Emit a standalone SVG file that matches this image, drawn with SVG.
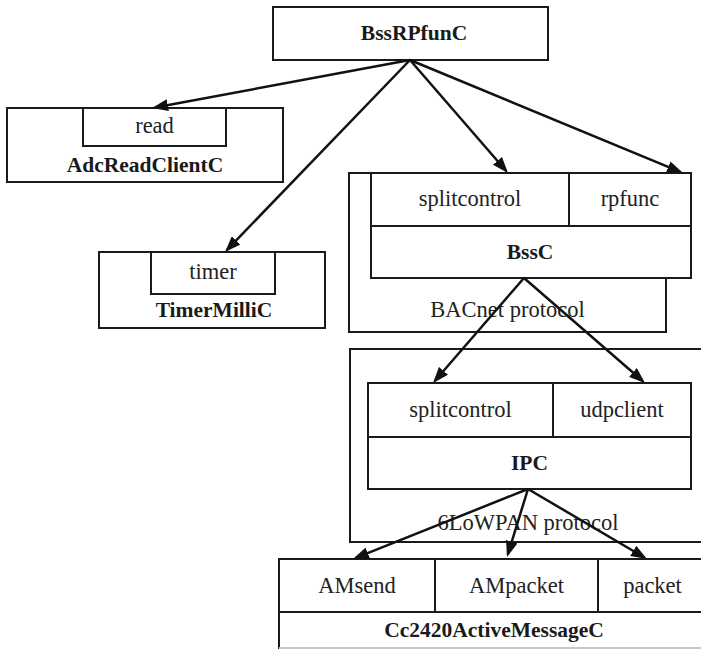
<svg xmlns="http://www.w3.org/2000/svg" width="701" height="649" viewBox="0 0 701 649">
  <style>
    .box { fill: #ffffff; stroke: #1a1a1a; stroke-width: 2; }
    .rule { stroke: #1a1a1a; stroke-width: 2; fill: none; }
    .lbl { font-family: "Liberation Serif", "Times New Roman", serif; font-size: 22.5px; fill: #222222; text-anchor: middle; }
    .name { font-family: "Liberation Serif", "Times New Roman", serif; font-size: 21.5px; font-weight: bold; fill: #1a1a1a; text-anchor: middle; }
    .wire { stroke: #111111; stroke-width: 2.5; fill: none; marker-end: url(#head); }
  </style>
  <defs>
    <marker id="head" viewBox="0 0 16 12" markerUnits="userSpaceOnUse" markerWidth="16" markerHeight="12" refX="13" refY="6" orient="auto">
      <path d="M0,0 L16,6 L0,12 z" fill="#111111"/>
    </marker>
  </defs>

  <rect width="701" height="649" fill="#ffffff"/>

  <!-- top-level component -->
  <g id="BssRPfunC">
    <rect class="box" x="273" y="7" width="275" height="53"/>
    <text class="name" x="414" y="40">BssRPfunC</text>
  </g>

  <!-- ADC client with its read interface -->
  <g id="AdcReadClientC">
    <rect class="box" x="7" y="108" width="276" height="74"/>
    <rect class="box" x="83" y="108" width="143" height="38"/>
    <text class="lbl" x="154.5" y="133">read</text>
    <text class="name" x="145" y="172">AdcReadClientC</text>
  </g>

  <!-- millisecond timer with its timer interface -->
  <g id="TimerMilliC">
    <rect class="box" x="99" y="252" width="226" height="76"/>
    <rect class="box" x="151" y="252" width="124" height="42"/>
    <text class="lbl" x="213" y="279">timer</text>
    <text class="name" x="214" y="317">TimerMilliC</text>
  </g>

  <!-- BACnet protocol layer containing BssC -->
  <g id="BACnet">
    <rect class="box" x="349" y="173" width="317" height="159"/>
    <text class="lbl" x="507.5" y="317">BACnet protocol</text>
  </g>
  <g id="BssC">
    <rect class="box" x="371" y="173" width="320" height="105"/>
    <line class="rule" x1="371" y1="226" x2="691" y2="226"/>
    <line class="rule" x1="569" y1="173" x2="569" y2="226"/>
    <text class="lbl" x="470" y="206">splitcontrol</text>
    <text class="lbl" x="630" y="206">rpfunc</text>
    <text class="name" x="530" y="259">BssC</text>
  </g>

  <!-- 6LoWPAN protocol layer containing IPC -->
  <g id="SixLoWPAN">
    <rect class="box" x="350" y="349" width="370" height="193"/>
    <text class="lbl" x="528" y="530">6LoWPAN protocol</text>
  </g>
  <g id="IPC">
    <rect class="box" x="368" y="383" width="323" height="106"/>
    <line class="rule" x1="368" y1="437" x2="691" y2="437"/>
    <line class="rule" x1="553" y1="383" x2="553" y2="437"/>
    <text class="lbl" x="460.5" y="417">splitcontrol</text>
    <text class="lbl" x="622" y="417">udpclient</text>
    <text class="name" x="529.5" y="470">IPC</text>
  </g>

  <!-- radio active message component -->
  <g id="Cc2420ActiveMessageC">
    <path class="rule" d="M279,649 L279,559 L712,559"/>
    <line x1="279" y1="648" x2="712" y2="648" stroke="#c8c8c8" stroke-width="2"/>
    <line class="rule" x1="279" y1="612" x2="712" y2="612"/>
    <line class="rule" x1="435" y1="559" x2="435" y2="612"/>
    <line class="rule" x1="598" y1="559" x2="598" y2="612"/>
    <text class="lbl" x="357" y="593">AMsend</text>
    <text class="lbl" x="516.5" y="593">AMpacket</text>
    <text class="lbl" x="652.5" y="593">packet</text>
    <text class="name" x="494" y="637">Cc2420ActiveMessageC</text>
  </g>

  <!-- wiring between components -->
  <g id="connectors">
    <line class="wire" x1="410" y1="60" x2="155" y2="107.5"/>
    <line class="wire" x1="410" y1="60" x2="227.1" y2="249.8"/>
    <line class="wire" x1="410" y1="60" x2="506" y2="170.7"/>
    <line class="wire" x1="410" y1="60" x2="680.2" y2="171.9"/>
    <line class="wire" x1="524" y1="278" x2="435" y2="380.7"/>
    <line class="wire" x1="524" y1="278" x2="642.7" y2="381"/>
    <line class="wire" x1="528" y1="489" x2="355.8" y2="557.9"/>
    <line class="wire" x1="528" y1="489" x2="507.9" y2="554.1"/>
    <line class="wire" x1="528" y1="489" x2="644.4" y2="557.5"/>
  </g>
</svg>
